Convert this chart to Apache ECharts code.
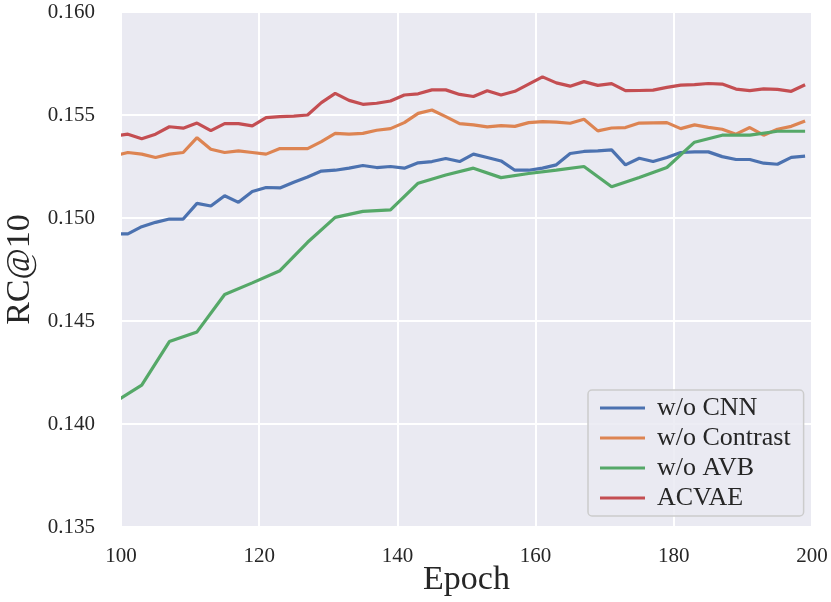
<!DOCTYPE html>
<html>
<head>
<meta charset="utf-8">
<script src="https://cdn.jsdelivr.net/npm/echarts@6/dist/echarts.min.js"></script>
<style>
    html, body { margin: 0; padding: 0; background: #ffffff; }
    #chart { width: 831px; height: 602px; }
</style>
</head>
<body>
<div id="chart"></div>
<script>
// === DATA ===
const epochs = [99, 101, 103, 105, 107, 109, 111, 113, 115, 117,
    119, 121, 123, 125, 127, 129, 131, 133, 135, 137,
    139, 141, 143, 145, 147, 149, 151, 153, 155, 157,
    159, 161, 163, 165, 167, 169, 171, 173, 175, 177,
    179, 181, 183, 185, 187, 189, 191, 193, 195, 197, 199];

// green run was logged every 4 epochs
const epochsAvb = [99, 103, 107, 111, 115, 119, 123, 127, 131, 135,
    139, 143, 147, 151, 155, 159, 163, 167, 171, 175,
    179, 183, 187, 191, 195, 199];

const noCnn = [0.14923, 0.14923, 0.14958, 0.14979, 0.14995, 0.14995, 0.15071, 0.15058, 0.15108, 0.15076,
    0.15129, 0.15148, 0.15146, 0.15174, 0.15199, 0.15228, 0.15232, 0.15242, 0.15255, 0.15245,
    0.15250, 0.15242, 0.15268, 0.15274, 0.15289, 0.15274, 0.15310, 0.15294, 0.15277, 0.15232,
    0.15232, 0.15242, 0.15258, 0.15313, 0.15323, 0.15326, 0.15331, 0.15258, 0.15290, 0.15274,
    0.15294, 0.15318, 0.15321, 0.15321, 0.15298, 0.15284, 0.15284, 0.15266, 0.15261, 0.15294, 0.15300];

const noContrast = [0.15302, 0.15318, 0.15310, 0.15294, 0.15310, 0.15318, 0.15390, 0.15334, 0.15318, 0.15326,
    0.15318, 0.15310, 0.15337, 0.15337, 0.15337, 0.15371, 0.15411, 0.15407, 0.15411, 0.15426,
    0.15434, 0.15463, 0.15508, 0.15524, 0.15492, 0.15458, 0.15452, 0.15442, 0.15448, 0.15445,
    0.15463, 0.15468, 0.15465, 0.15460, 0.15479, 0.15423, 0.15437, 0.15439, 0.15461, 0.15462,
    0.15463, 0.15434, 0.15452, 0.15440, 0.15431, 0.15407, 0.15439, 0.15402, 0.15431, 0.15445, 0.15471];

const noAvb = [0.14105, 0.14189, 0.14400, 0.14447, 0.14629, 0.14685, 0.14744, 0.14882, 0.15003, 0.15032,
    0.15039, 0.15169, 0.15209, 0.15242, 0.15196, 0.15216, 0.15232, 0.15250, 0.15152, 0.15197,
    0.15245, 0.15368, 0.15402, 0.15402, 0.15421, 0.15421];

const acvae = [0.15398, 0.15407, 0.15385, 0.15407, 0.15443, 0.15436, 0.15461, 0.15424, 0.15458, 0.15458,
    0.15447, 0.15487, 0.15492, 0.15495, 0.15500, 0.15560, 0.15605, 0.15571, 0.15552, 0.15557,
    0.15568, 0.15597, 0.15603, 0.15622, 0.15622, 0.15600, 0.15590, 0.15618, 0.15597, 0.15615,
    0.15650, 0.15685, 0.15656, 0.15640, 0.15662, 0.15644, 0.15652, 0.15618, 0.15619, 0.15621,
    0.15634, 0.15645, 0.15647, 0.15653, 0.15650, 0.15626, 0.15618, 0.15627, 0.15624, 0.15615, 0.15647];

const seriesNames = ['w/o CNN', 'w/o Contrast', 'w/o AVB', 'ACVAE'];
const seriesColors = ['#4C72B0', '#DD8452', '#55A868', '#C44E52'];

// === HELPERS ===
const FONT = 'Liberation Serif';
const TEXT = '#262626';

function pairs(xs, ys) {
    return xs.map((x, i) => [x, ys[i]]);
}

function lineSeries(idx, xs, ys) {
    return {
        name: seriesNames[idx],
        type: 'line',
        data: pairs(xs, ys),
        symbol: 'none',
        clip: false,
        lineStyle: { color: seriesColors[idx], width: 3.2 },
        itemStyle: { color: seriesColors[idx] },
        z: 2
    };
}

// === CHART ===
const chart = echarts.init(document.getElementById('chart'));

chart.setOption({
    animation: false,
    backgroundColor: '#ffffff',
    grid: {
        left: 121, right: 19, top: 12, bottom: 75,
        outerBoundsMode: 'none',
        containLabel: false,
        show: true,
        backgroundColor: '#EAEAF2',
        borderWidth: 0
    },
    legend: {
        orient: 'vertical',
        left: 588,
        top: 390,
        data: seriesNames,
        icon: 'rect',
        itemWidth: 45,
        itemHeight: 3,
        itemGap: 4,
        padding: [5, 13, 5, 12],
        backgroundColor: 'rgba(234,234,242,0.85)',
        borderColor: '#cccccc',
        borderWidth: 1.5,
        borderRadius: 4,
        textStyle: { fontFamily: FONT, fontSize: 26, color: TEXT, padding: [0, 0, 0, 7] }
    },
    xAxis: {
        type: 'value',
        min: 100,
        max: 200,
        interval: 20,
        name: 'Epoch',
        nameLocation: 'middle',
        nameGap: 36,
        nameMoveOverlap: false,
        nameTextStyle: { fontFamily: FONT, fontSize: 34, color: TEXT },
        axisLine: { show: false },
        axisTick: { show: false },
        axisLabel: { fontFamily: FONT, fontSize: 21, color: TEXT, margin: 19 },
        splitLine: { lineStyle: { color: '#ffffff', width: 2 } }
    },
    yAxis: [{
        type: 'value',
        min: 0.135,
        max: 0.160,
        interval: 0.005,
        name: 'RC@10',
        nameLocation: 'middle',
        nameGap: 84,
        nameMoveOverlap: false,
        nameTextStyle: { fontFamily: FONT, fontSize: 34, color: TEXT },
        axisLine: { show: false },
        axisTick: { show: false },
        axisLabel: {
            fontFamily: FONT, fontSize: 21, color: TEXT, margin: 26,
            formatter: v => v.toFixed(3)
        },
        splitLine: { lineStyle: { color: '#ffffff', width: 2 } }
    }, {
        // white left spine drawn over the lines that start before epoch 100
        type: 'value',
        position: 'left',
        offset: 2,
        min: 0.135,
        max: 0.160,
        z: 10,
        axisLine: { show: true, lineStyle: { color: '#ffffff', width: 4 } },
        axisTick: { show: false },
        axisLabel: { show: false },
        splitLine: { show: false }
    }],
    series: [
        lineSeries(0, epochs, noCnn),
        lineSeries(1, epochs, noContrast),
        lineSeries(2, epochsAvb, noAvb),
        lineSeries(3, epochs, acvae)
    ]
});
</script>
</body>
</html>
